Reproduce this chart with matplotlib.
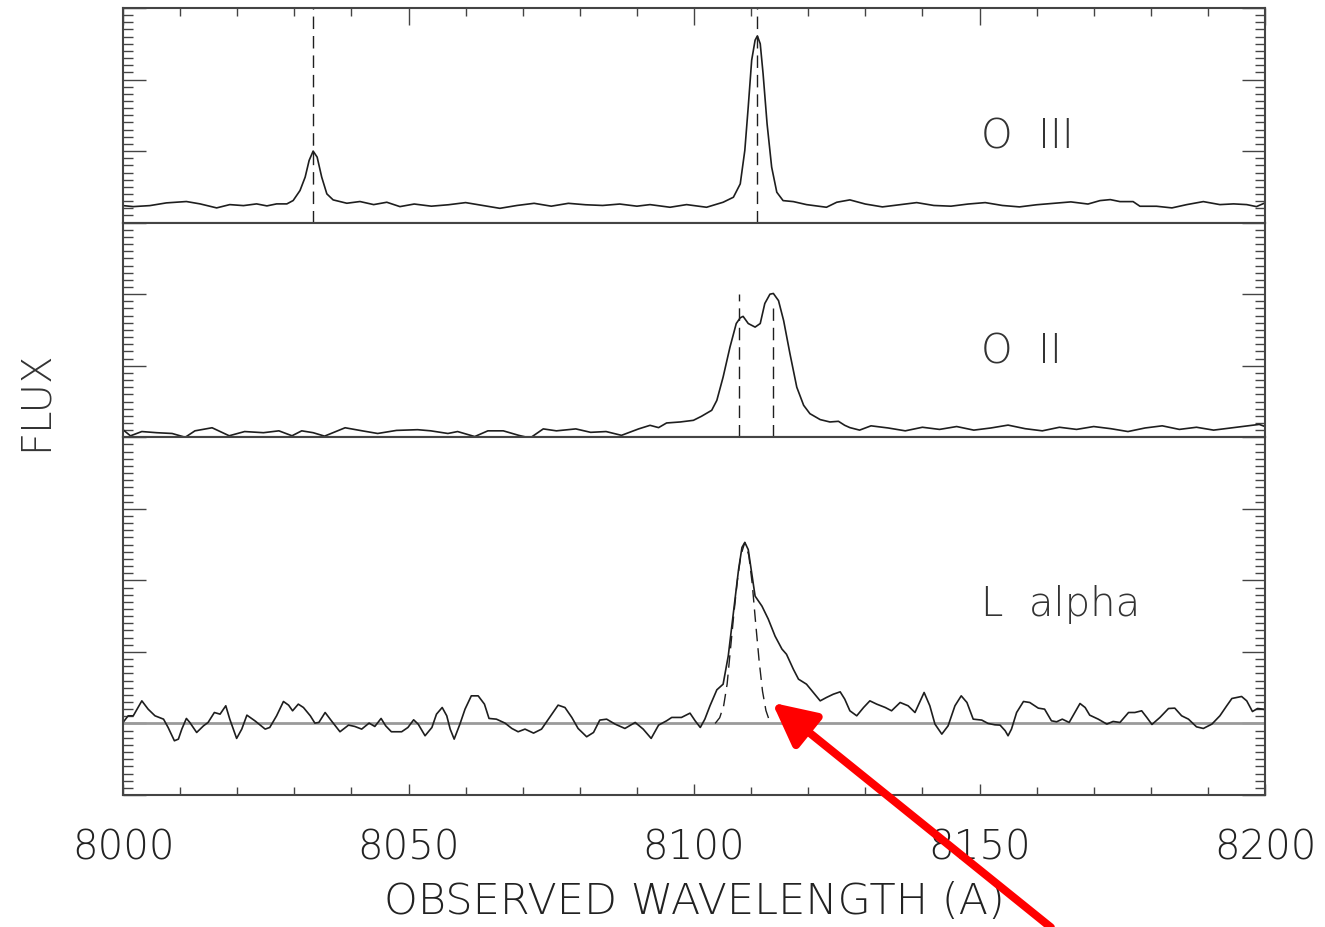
import numpy as np
import matplotlib
matplotlib.use("Agg")
from matplotlib import pyplot as plt
from matplotlib.ticker import MultipleLocator

plt.rcParams['font.family'] = ['DejaVu Sans']
plt.rcParams['font.weight'] = 'light'
plt.rcParams['axes.labelweight'] = 'light'

# O III panel (flux in minor-tick units)
wl_o3 = [8000.0, 8001.8, 8004.7, 8007.6, 8011.1, 8013.5, 8016.4, 8018.7, 8021.1, 8023.4,
         8025.2, 8026.9, 8028.7, 8029.8, 8031.0, 8031.9, 8032.6, 8033.3, 8034.0, 8034.8,
         8035.7, 8036.8, 8039.2, 8041.5, 8043.9, 8046.2, 8048.5,
         8051, 8054, 8057, 8060, 8063, 8066, 8069, 8072, 8075, 8078, 8081, 8084, 8087, 8090,
         8092.3, 8095.8, 8098.7, 8102.2, 8105.1, 8106.9, 8108.1, 8108.9, 8109.5, 8110.1,
         8110.7, 8111.1, 8111.6, 8112.1, 8112.8, 8113.6, 8114.5, 8115.6, 8117.4, 8119.7,
         8123.2, 8125.0, 8127.3,
         8130, 8133, 8136, 8139, 8142, 8145, 8148, 8151, 8154, 8157, 8160, 8163, 8166, 8169,
         8171.1, 8172.9, 8174.6, 8176.9, 8178.1, 8181.0, 8183.7, 8186.3, 8189.2, 8192.1,
         8194.5, 8196.8, 8198.5, 8200.0]
flux_o3 = [2.38, 2.24, 2.38, 2.76, 2.95, 2.62, 2.06, 2.52, 2.38, 2.62,
           2.34, 2.62, 2.62, 3.09, 4.49, 6.36, 8.7, 10.0, 9.16, 6.36,
           4.02, 3.18, 2.71, 2.95, 2.52, 2.85, 2.24,
           2.6, 2.3, 2.5, 2.8, 2.4, 2.0, 2.4, 2.7, 2.3, 2.7, 2.5, 2.4, 2.6, 2.3,
           2.52, 2.15, 2.52, 2.15, 2.85, 3.55, 5.42, 10.1, 16.2, 22.7,
           25.5, 26.1, 25.0, 20.8, 13.8, 7.76, 4.25, 3.08, 2.94, 2.52,
           2.15, 2.85, 3.18,
           2.6, 2.2, 2.5, 2.8, 2.4, 2.3, 2.6, 2.8, 2.4, 2.2, 2.5, 2.7, 2.9, 2.6,
           3.08, 3.22, 2.94, 2.94, 2.29, 2.29, 2.06, 2.52, 2.94, 2.52,
           2.62, 2.52, 2.24, 2.76]
o3_lines = [8033.3, 8111.0]

# O II panel
wl_o2 = [8000.0, 8001.3, 8003.3, 8005.9, 8008.6, 8010.9, 8012.6, 8015.6, 8018.6, 8021.3,
         8024.6, 8027.3, 8029.6, 8031.3, 8033.3, 8035.3, 8038.9, 8041.9, 8044.6, 8047.9,
         8051.6, 8053.9, 8056.9, 8058.6, 8061.6, 8063.9, 8066.6, 8069.3, 8071.3, 8073.6,
         8075.9, 8079.3, 8081.9, 8084.6, 8087.3, 8090.3,
         8092.3, 8093.8, 8095.2, 8097.6, 8099.9, 8101.3, 8103.1, 8104.0, 8105.1, 8106.3,
         8107.4, 8108.1, 8108.6, 8109.5, 8110.7, 8111.6, 8112.4, 8113.3, 8113.9, 8114.8,
         8115.7, 8116.8, 8118.0, 8119.2, 8120.3, 8122.1, 8123.8, 8125.3, 8126.4, 8127.3,
         8129, 8131, 8134, 8137, 8140, 8143, 8146, 8149, 8152, 8155,
         8158, 8161, 8164, 8167, 8170, 8173, 8176, 8179, 8182, 8185,
         8188, 8191, 8194, 8197, 8199, 8200]
flux_o2 = [1.06, 0.2, 0.8, 0.64, 0.53, 0.0, 0.9, 1.33, 0.21, 0.8,
           0.64, 0.9, 0.21, 0.9, 0.64, 0.16, 1.33, 0.9, 0.53, 0.96,
           1.06, 0.9, 0.53, 0.8, 0.1, 0.9, 0.9, 0.27, -0.1, 1.17,
           0.9, 1.17, 0.69, 0.8, 0.27, 1.17,
           1.67, 1.35, 2.0, 2.14, 2.37, 2.93, 3.77, 5.16, 8.42, 12.6,
           15.9, 16.7, 16.9, 15.9, 15.4, 15.9, 18.7, 20.0, 20.1, 19.1,
           16.3, 11.7, 7.0, 4.47, 3.3, 2.47, 2.14, 2.23, 1.67, 1.35,
           1.0, 1.6, 1.3, 0.9, 1.4, 1.1, 1.5, 1.0, 1.3, 1.7,
           1.2, 0.9, 1.4, 1.1, 1.5, 1.2, 0.8, 1.3, 1.6, 1.1,
           1.4, 1.0, 1.3, 1.6, 1.8, 1.5]
o2_lines = [8107.8, 8113.9]
o2_line_tops = [20.0, 18.1]

# L alpha panel
wl_la = [8000.0, 8000.9, 8001.8, 8003.3, 8004.4, 8005.6, 8007.1, 8007.9, 8009.0, 8009.7,
         8010.3, 8011.1, 8011.7, 8012.9, 8014.1, 8014.9, 8016.0, 8017.0, 8018.0, 8018.7,
         8019.9, 8020.8, 8021.7, 8023.1, 8024.9, 8025.7, 8026.9, 8028.1, 8029.0, 8029.7,
         8030.7, 8031.6, 8032.8, 8033.6, 8034.3, 8035.4, 8036.5, 8038.0, 8039.5, 8040.6,
         8041.8, 8043.1, 8044.1, 8045.2, 8046.0, 8047.0, 8048.8, 8049.9,
         8050.9, 8051.7, 8052.9, 8054.1, 8054.9, 8055.9, 8056.7, 8057.3, 8058.0, 8059.0,
         8059.9, 8061.0, 8062.2, 8063.3, 8064.1, 8065.4, 8066.9, 8068.1, 8069.2, 8070.4,
         8071.9, 8073.3, 8074.5, 8076.2, 8077.4, 8078.6, 8079.7, 8081.2, 8082.4, 8083.5,
         8084.7, 8086.2, 8087.9, 8089.7, 8091.1, 8092.5, 8093.8, 8095.2, 8096.1, 8097.8,
         8099.3, 8100.2, 8101.1, 8101.9,
         8102.8, 8104.0, 8105.1, 8106.0, 8106.9, 8107.8, 8108.4, 8108.9, 8109.5, 8110.1,
         8110.7, 8111.9, 8113.0, 8114.2, 8115.4, 8116.2, 8117.4, 8118.3, 8119.7, 8120.9,
         8122.1, 8123.2, 8124.4, 8125.6, 8126.4, 8127.3, 8128.5, 8129.7, 8130.8, 8132.0,
         8133.5, 8134.6, 8136.1, 8137.5, 8138.7, 8140.3, 8141.3, 8142.2, 8143.4, 8144.5,
         8145.7, 8146.8, 8147.8, 8148.9,
         8150.4, 8151.5, 8152.7, 8153.6, 8154.5, 8155.0, 8155.6, 8156.5, 8157.7, 8158.8,
         8160.3, 8161.4, 8162.6, 8163.5, 8164.5, 8165.7, 8166.7, 8167.6, 8168.5, 8169.3,
         8170.8, 8172.3, 8173.4, 8174.6, 8176.1, 8177.2, 8178.4, 8179.3, 8180.2, 8181.6,
         8183.1, 8184.2, 8185.4, 8186.6, 8188.0, 8189.2, 8190.7, 8192.1, 8193.3, 8194.2,
         8195.9, 8196.8, 8197.8, 8198.7, 8199.7, 8200.0]
flux_la = [0.14, 1.07, 1.07, 3.16, 2.0, 1.07, 0.6, -0.56, -2.42, -2.19,
           -0.79, 0.7, 0.14, -1.26, -0.33, 0.14, 1.53, 1.3, 2.47, 0.6,
           -2.09, -0.79, 1.16, 0.37, -0.79, -0.56, 1.07, 3.07, 2.56, 1.77,
           2.7, 2.23, 1.07, 0.05, 0.14, 1.53, 0.37, -1.16, -0.23, -0.42,
           -0.79, 0.05, -0.42, 0.7, -0.33, -1.16, -1.16, -0.56,
           0.51, -0.1, -1.72, -0.56, 1.3, 2.23, 1.07, -0.79, -2.19, -0.1,
           2.0, 3.86, 3.86, 2.7, 0.7, 0.6, 0.05, -0.7, -1.16, -0.79,
           -1.35, -0.79, 0.6, 2.56, 2.23, 0.84, -0.7, -1.86, -1.26, 0.47,
           0.6, -0.1, -0.7, 0.14, -0.79, -2.09, -0.23, 0.37, 0.84, 0.84,
           1.44, 0.37, -0.56, 0.6,
           2.47, 4.7, 5.49, 9.44, 15.5, 21.5, 24.6, 25.3, 24.3, 21.1,
           17.8, 16.4, 14.6, 12.2, 10.4, 9.67, 7.58, 6.19, 5.49, 4.33,
           3.16, 3.63, 4.09, 4.42, 3.4, 1.77, 1.07, 2.23, 3.16, 2.7,
           2.23, 1.77, 2.93, 2.47, 1.53, 4.33, 2.47, -0.09, -1.49, -0.33,
           2.47, 3.86, 2.93, 0.6,
           0.47, 0.0, -0.19, -0.23, -1.02, -1.72, -0.79, 1.53, 3.07, 2.93,
           2.14, 2.0, 0.37, 0.23, 0.6, 0.14, 1.53, 2.79, 2.23, 1.16,
           0.6, -0.09, 0.28, 0.14, 1.53, 1.53, 1.77, 0.84, -0.14, 0.84,
           2.09, 2.14, 1.07, 0.6, -0.47, -0.7, -0.09, 1.07, 2.47, 3.49,
           3.77, 3.16, 1.67, 2.09, 2.0, 1.9]

# gaussian fit to the blue side of L alpha
wl_fit = [8103.7, 8104.5, 8105.2, 8105.8, 8106.4, 8107.0, 8107.6, 8108.2, 8108.9,
          8109.6, 8110.2, 8110.8, 8111.4, 8112.0, 8112.6, 8113.2]
flux_fit = [0.0, 0.8, 2.5, 5.5, 10.5, 15.5, 20.0, 23.5, 25.3,
            23.5, 19.5, 14.0, 8.8, 4.5, 1.8, 0.4]

labels = ['O  III', 'O  II', 'L  alpha']
label_x = 8150.3
label_y = [11.9, 11.9, 16.6]
ylims = [(0, 30), (0, 30), (-10, 40)]

ink = '#1e1e1e'
fig = plt.figure(figsize=(13.25, 9.27), dpi=100)
gs = fig.add_gridspec(3, 1, height_ratios=[3, 3, 5], hspace=0,
                      left=123/1325, right=1265/1325, top=1-8/927, bottom=1-795/927)
axes = [fig.add_subplot(gs[i]) for i in range(3)]

axes[0].plot(wl_o3, flux_o3, color=ink, lw=1.2)
for w in o3_lines:
    axes[0].axvline(w, color=ink, lw=1.0, dashes=(9, 5))

axes[1].plot(wl_o2, flux_o2, color=ink, lw=1.2)
for w, t in zip(o2_lines, o2_line_tops):
    axes[1].plot([w, w], [0, t], color=ink, lw=1.0, dashes=(9, 5))

axes[2].axhline(0, color='#9a9a9a', lw=2.0)
axes[2].plot(wl_la, flux_la, color=ink, lw=1.2)
axes[2].plot(wl_fit, flux_fit, color=ink, lw=1.0, dashes=(9, 5))

for i, ax in enumerate(axes):
    ax.set_xlim(8000, 8200)
    ax.set_ylim(*ylims[i])
    ax.xaxis.set_major_locator(MultipleLocator(50))
    ax.xaxis.set_minor_locator(MultipleLocator(10))
    ax.yaxis.set_major_locator(MultipleLocator(10))
    ax.yaxis.set_minor_locator(MultipleLocator(1))
    ax.tick_params(axis='y', which='both', direction='in', left=True, right=True,
                   labelleft=False, color='#444444', width=1.0)
    ax.tick_params(axis='y', which='major', length=16.5)
    ax.tick_params(axis='y', which='minor', length=7)
    ax.tick_params(axis='x', which='both', direction='in', top=(i == 0), bottom=(i == 2),
                   labelbottom=(i == 2), color='#444444', width=1.0)
    ax.tick_params(axis='x', which='major', length=12 if i == 0 else 8)
    ax.tick_params(axis='x', which='minor', length=6)
    for s in ax.spines.values():
        s.set_color('#444444')
        s.set_linewidth(1.5)
    ax.text(label_x, label_y[i], labels[i], fontsize=29, color='#333333',
            va='center', ha='left')

axes[2].tick_params(axis='x', which='major', labelsize=29, pad=24, labelcolor='#222222')
axes[2].set_xlabel('OBSERVED WAVELENGTH (A)', fontsize=31, color='#222222',
                   labelpad=10, fontweight='light')
fig.text(35/1325, 1-401/927, 'FLUX', rotation=90, fontsize=29, color='#333333',
         ha='center', va='center')

# red annotation arrow
axes[2].annotate('', xy=(8113.7, 2.9), xytext=(8162.5, -28.5), annotation_clip=False,
                 arrowprops=dict(arrowstyle='-|>,head_length=2.6,head_width=1.3',
                                 color='#ff0000', lw=5.8, shrinkA=0, shrinkB=0))

fig.savefig('out.png', dpi=100)
